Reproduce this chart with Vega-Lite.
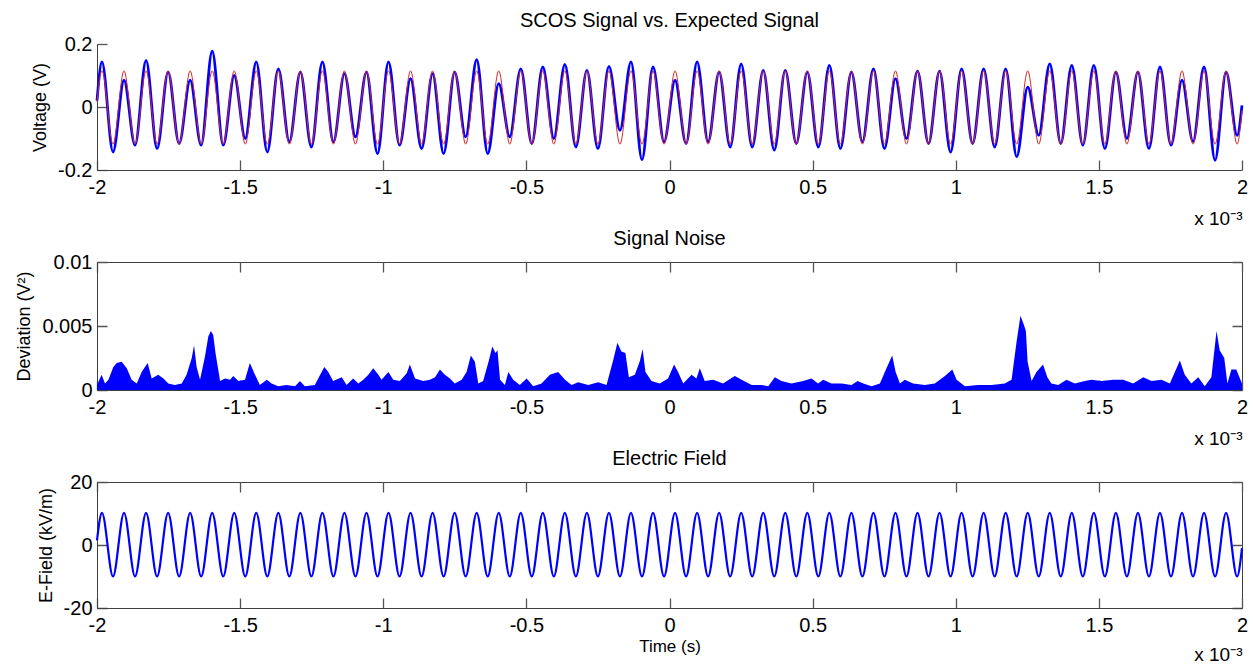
{
  "$schema": "https://vega.github.io/schema/vega-lite/v6.json",
  "background": "white",
  "padding": {"left": 15, "top": 11, "right": 4, "bottom": 2},
  "config": {
    "font": "Liberation Sans",
    "view": {"stroke": null},
    "axis": {"labelFont": "Liberation Sans", "labelFontSize": 20, "labelColor": "#000000", "titleFont": "Liberation Sans", "titleFontSize": 18, "titleFontWeight": "normal", "titleColor": "#000000", "domainColor": "#404040", "ticks": true, "tickSize": 0, "grid": true, "gridColor": "#555555", "gridOpacity": 1, "gridWidth": 1.3, "gridCap": "butt", "labelFlush": false, "labelOverlap": false, "labelBound": false},
    "axisBottom": {"labelPadding": 7},
    "axisLeft": {"labelPadding": 5, "titlePadding": 8},
    "title": {"font": "Liberation Sans", "fontSize": 20, "fontWeight": "normal", "color": "#000000", "offset": 3, "frame": "group", "anchor": "middle"}
  },
  "datasets": {
    "wave": [
      {"t": -2, "meas": 0.02, "expected": 0.017, "efield": 1.5},
      {"t": -1.9826, "meas": 0.143, "expected": 0.115, "efield": 10.2},
      {"t": -1.9441, "meas": -0.143, "expected": -0.118, "efield": -10},
      {"t": -1.9056, "meas": 0.085, "expected": 0.115, "efield": 10.2},
      {"t": -1.8671, "meas": -0.121, "expected": -0.118, "efield": -10},
      {"t": -1.8286, "meas": 0.148, "expected": 0.115, "efield": 10.2},
      {"t": -1.7901, "meas": -0.132, "expected": -0.118, "efield": -10},
      {"t": -1.7516, "meas": 0.111, "expected": 0.115, "efield": 10.2},
      {"t": -1.7131, "meas": -0.116, "expected": -0.118, "efield": -10},
      {"t": -1.6746, "meas": 0.085, "expected": 0.115, "efield": 10.2},
      {"t": -1.6361, "meas": -0.121, "expected": -0.118, "efield": -10},
      {"t": -1.5976, "meas": 0.177, "expected": 0.115, "efield": 10.2},
      {"t": -1.5591, "meas": -0.121, "expected": -0.118, "efield": -10},
      {"t": -1.5206, "meas": 0.1, "expected": 0.115, "efield": 10.2},
      {"t": -1.4821, "meas": -0.1, "expected": -0.118, "efield": -10},
      {"t": -1.4436, "meas": 0.143, "expected": 0.115, "efield": 10.2},
      {"t": -1.4051, "meas": -0.143, "expected": -0.118, "efield": -10},
      {"t": -1.3666, "meas": 0.121, "expected": 0.115, "efield": 10.2},
      {"t": -1.3281, "meas": -0.111, "expected": -0.118, "efield": -10},
      {"t": -1.2896, "meas": 0.111, "expected": 0.115, "efield": 10.2},
      {"t": -1.2511, "meas": -0.127, "expected": -0.118, "efield": -10},
      {"t": -1.2126, "meas": 0.143, "expected": 0.115, "efield": 10.2},
      {"t": -1.1741, "meas": -0.111, "expected": -0.118, "efield": -10},
      {"t": -1.1356, "meas": 0.106, "expected": 0.115, "efield": 10.2},
      {"t": -1.0971, "meas": -0.095, "expected": -0.118, "efield": -10},
      {"t": -1.0586, "meas": 0.111, "expected": 0.115, "efield": 10.2},
      {"t": -1.0201, "meas": -0.148, "expected": -0.118, "efield": -10},
      {"t": -0.9816, "meas": 0.143, "expected": 0.115, "efield": 10.2},
      {"t": -0.9431, "meas": -0.121, "expected": -0.118, "efield": -10},
      {"t": -0.9046, "meas": 0.09, "expected": 0.115, "efield": 10.2},
      {"t": -0.8661, "meas": -0.132, "expected": -0.118, "efield": -10},
      {"t": -0.8276, "meas": 0.106, "expected": 0.115, "efield": 10.2},
      {"t": -0.7891, "meas": -0.148, "expected": -0.118, "efield": -10},
      {"t": -0.7506, "meas": 0.111, "expected": 0.115, "efield": 10.2},
      {"t": -0.7121, "meas": -0.095, "expected": -0.118, "efield": -10},
      {"t": -0.6736, "meas": 0.15, "expected": 0.115, "efield": 10.2},
      {"t": -0.6351, "meas": -0.148, "expected": -0.118, "efield": -10},
      {"t": -0.5966, "meas": 0.074, "expected": 0.115, "efield": 10.2},
      {"t": -0.5581, "meas": -0.095, "expected": -0.118, "efield": -10},
      {"t": -0.5196, "meas": 0.121, "expected": 0.115, "efield": 10.2},
      {"t": -0.4811, "meas": -0.116, "expected": -0.118, "efield": -10},
      {"t": -0.4426, "meas": 0.127, "expected": 0.115, "efield": 10.2},
      {"t": -0.4041, "meas": -0.1, "expected": -0.118, "efield": -10},
      {"t": -0.3656, "meas": 0.135, "expected": 0.115, "efield": 10.2},
      {"t": -0.3271, "meas": -0.127, "expected": -0.118, "efield": -10},
      {"t": -0.2886, "meas": 0.116, "expected": 0.115, "efield": 10.2},
      {"t": -0.2501, "meas": -0.132, "expected": -0.118, "efield": -10},
      {"t": -0.2116, "meas": 0.129, "expected": 0.115, "efield": 10.2},
      {"t": -0.1731, "meas": -0.074, "expected": -0.118, "efield": -10},
      {"t": -0.1346, "meas": 0.143, "expected": 0.115, "efield": 10.2},
      {"t": -0.0961, "meas": -0.167, "expected": -0.118, "efield": -10},
      {"t": -0.0576, "meas": 0.127, "expected": 0.115, "efield": 10.2},
      {"t": -0.0191, "meas": -0.111, "expected": -0.118, "efield": -10},
      {"t": 0.0194, "meas": 0.085, "expected": 0.115, "efield": 10.2},
      {"t": 0.0579, "meas": -0.116, "expected": -0.118, "efield": -10},
      {"t": 0.0964, "meas": 0.143, "expected": 0.115, "efield": 10.2},
      {"t": 0.1349, "meas": -0.111, "expected": -0.118, "efield": -10},
      {"t": 0.1734, "meas": 0.111, "expected": 0.115, "efield": 10.2},
      {"t": 0.2119, "meas": -0.127, "expected": -0.118, "efield": -10},
      {"t": 0.2504, "meas": 0.137, "expected": 0.115, "efield": 10.2},
      {"t": 0.2889, "meas": -0.127, "expected": -0.118, "efield": -10},
      {"t": 0.3274, "meas": 0.116, "expected": 0.115, "efield": 10.2},
      {"t": 0.3659, "meas": -0.137, "expected": -0.118, "efield": -10},
      {"t": 0.4044, "meas": 0.116, "expected": 0.115, "efield": 10.2},
      {"t": 0.4429, "meas": -0.116, "expected": -0.118, "efield": -10},
      {"t": 0.4814, "meas": 0.111, "expected": 0.115, "efield": 10.2},
      {"t": 0.5199, "meas": -0.127, "expected": -0.118, "efield": -10},
      {"t": 0.5584, "meas": 0.132, "expected": 0.115, "efield": 10.2},
      {"t": 0.5969, "meas": -0.132, "expected": -0.118, "efield": -10},
      {"t": 0.6354, "meas": 0.111, "expected": 0.115, "efield": 10.2},
      {"t": 0.6739, "meas": -0.111, "expected": -0.118, "efield": -10},
      {"t": 0.7124, "meas": 0.121, "expected": 0.115, "efield": 10.2},
      {"t": 0.7509, "meas": -0.132, "expected": -0.118, "efield": -10},
      {"t": 0.7894, "meas": 0.09, "expected": 0.115, "efield": 10.2},
      {"t": 0.8279, "meas": -0.1, "expected": -0.118, "efield": -10},
      {"t": 0.8664, "meas": 0.114, "expected": 0.115, "efield": 10.2},
      {"t": 0.9049, "meas": -0.116, "expected": -0.118, "efield": -10},
      {"t": 0.9434, "meas": 0.114, "expected": 0.115, "efield": 10.2},
      {"t": 0.9819, "meas": -0.143, "expected": -0.118, "efield": -10},
      {"t": 1.0204, "meas": 0.121, "expected": 0.115, "efield": 10.2},
      {"t": 1.0589, "meas": -0.116, "expected": -0.118, "efield": -10},
      {"t": 1.0974, "meas": 0.121, "expected": 0.115, "efield": 10.2},
      {"t": 1.1359, "meas": -0.127, "expected": -0.118, "efield": -10},
      {"t": 1.1744, "meas": 0.121, "expected": 0.115, "efield": 10.2},
      {"t": 1.2129, "meas": -0.158, "expected": -0.118, "efield": -10},
      {"t": 1.2514, "meas": 0.063, "expected": 0.115, "efield": 10.2},
      {"t": 1.2899, "meas": -0.09, "expected": -0.118, "efield": -10},
      {"t": 1.3284, "meas": 0.137, "expected": 0.115, "efield": 10.2},
      {"t": 1.3669, "meas": -0.116, "expected": -0.118, "efield": -10},
      {"t": 1.4054, "meas": 0.132, "expected": 0.115, "efield": 10.2},
      {"t": 1.4439, "meas": -0.121, "expected": -0.118, "efield": -10},
      {"t": 1.4824, "meas": 0.132, "expected": 0.115, "efield": 10.2},
      {"t": 1.5209, "meas": -0.132, "expected": -0.118, "efield": -10},
      {"t": 1.5594, "meas": 0.111, "expected": 0.115, "efield": 10.2},
      {"t": 1.5979, "meas": -0.1, "expected": -0.118, "efield": -10},
      {"t": 1.6364, "meas": 0.111, "expected": 0.115, "efield": 10.2},
      {"t": 1.6749, "meas": -0.132, "expected": -0.118, "efield": -10},
      {"t": 1.7134, "meas": 0.127, "expected": 0.115, "efield": 10.2},
      {"t": 1.7519, "meas": -0.121, "expected": -0.118, "efield": -10},
      {"t": 1.7904, "meas": 0.085, "expected": 0.115, "efield": 10.2},
      {"t": 1.8289, "meas": -0.11, "expected": -0.118, "efield": -10},
      {"t": 1.8674, "meas": 0.127, "expected": 0.115, "efield": 10.2},
      {"t": 1.9059, "meas": -0.169, "expected": -0.118, "efield": -10},
      {"t": 1.9444, "meas": 0.111, "expected": 0.115, "efield": 10.2},
      {"t": 1.9829, "meas": -0.09, "expected": -0.118, "efield": -10},
      {"t": 2, "meas": 0.005, "expected": -0.01, "efield": -1}
    ],
    "noise": [
      {"t": -2, "dev": 0.0004}, {"t": -1.984, "dev": 0.0012}, {"t": -1.972, "dev": 0.0005}, {"t": -1.96, "dev": 0.0008},
      {"t": -1.943, "dev": 0.0018}, {"t": -1.931, "dev": 0.0021}, {"t": -1.914, "dev": 0.0022}, {"t": -1.896, "dev": 0.0017},
      {"t": -1.879, "dev": 0.0008}, {"t": -1.861, "dev": 0.0005}, {"t": -1.844, "dev": 0.0014}, {"t": -1.823, "dev": 0.0021},
      {"t": -1.809, "dev": 0.0009}, {"t": -1.786, "dev": 0.0012}, {"t": -1.768, "dev": 0.0009}, {"t": -1.751, "dev": 0.0005},
      {"t": -1.728, "dev": 0.0004}, {"t": -1.704, "dev": 0.0005}, {"t": -1.687, "dev": 0.0012}, {"t": -1.669, "dev": 0.0025},
      {"t": -1.661, "dev": 0.0035}, {"t": -1.652, "dev": 0.0018}, {"t": -1.64, "dev": 0.0008}, {"t": -1.623, "dev": 0.0026},
      {"t": -1.611, "dev": 0.0042}, {"t": -1.602, "dev": 0.0046}, {"t": -1.594, "dev": 0.0043}, {"t": -1.586, "dev": 0.0029},
      {"t": -1.57, "dev": 0.0007}, {"t": -1.553, "dev": 0.0009}, {"t": -1.535, "dev": 0.0008}, {"t": -1.524, "dev": 0.0011},
      {"t": -1.506, "dev": 0.0007}, {"t": -1.483, "dev": 0.0008}, {"t": -1.466, "dev": 0.0021}, {"t": -1.448, "dev": 0.0012},
      {"t": -1.431, "dev": 0.0004}, {"t": -1.407, "dev": 0.0008}, {"t": -1.39, "dev": 0.0005}, {"t": -1.367, "dev": 0.0003},
      {"t": -1.338, "dev": 0.0004}, {"t": -1.308, "dev": 0.0003}, {"t": -1.291, "dev": 0.0007}, {"t": -1.274, "dev": 0.0003},
      {"t": -1.239, "dev": 0.0004}, {"t": -1.206, "dev": 0.0018}, {"t": -1.192, "dev": 0.0014}, {"t": -1.175, "dev": 0.0007},
      {"t": -1.145, "dev": 0.001}, {"t": -1.128, "dev": 0.0004}, {"t": -1.105, "dev": 0.0009}, {"t": -1.087, "dev": 0.0005},
      {"t": -1.07, "dev": 0.0008}, {"t": -1.052, "dev": 0.0012}, {"t": -1.035, "dev": 0.0017}, {"t": -1.017, "dev": 0.0012},
      {"t": -1.006, "dev": 0.0008}, {"t": -0.982, "dev": 0.0014}, {"t": -0.965, "dev": 0.0008}, {"t": -0.942, "dev": 0.0007},
      {"t": -0.918, "dev": 0.0013}, {"t": -0.907, "dev": 0.002}, {"t": -0.889, "dev": 0.0009}, {"t": -0.86, "dev": 0.0007},
      {"t": -0.837, "dev": 0.0008}, {"t": -0.819, "dev": 0.001}, {"t": -0.802, "dev": 0.0016}, {"t": -0.785, "dev": 0.0012},
      {"t": -0.767, "dev": 0.0009}, {"t": -0.75, "dev": 0.0005}, {"t": -0.726, "dev": 0.0008}, {"t": -0.709, "dev": 0.0014},
      {"t": -0.694, "dev": 0.0027}, {"t": -0.68, "dev": 0.0022}, {"t": -0.668, "dev": 0.0005}, {"t": -0.651, "dev": 0.0007},
      {"t": -0.631, "dev": 0.0023}, {"t": -0.619, "dev": 0.0034}, {"t": -0.608, "dev": 0.0029}, {"t": -0.601, "dev": 0.0031},
      {"t": -0.592, "dev": 0.0008}, {"t": -0.575, "dev": 0.0004}, {"t": -0.563, "dev": 0.0014}, {"t": -0.546, "dev": 0.0008},
      {"t": -0.523, "dev": 0.0004}, {"t": -0.499, "dev": 0.0009}, {"t": -0.476, "dev": 0.0003}, {"t": -0.447, "dev": 0.0005},
      {"t": -0.418, "dev": 0.0012}, {"t": -0.389, "dev": 0.0014}, {"t": -0.365, "dev": 0.0008}, {"t": -0.342, "dev": 0.0004},
      {"t": -0.319, "dev": 0.0006}, {"t": -0.284, "dev": 0.0004}, {"t": -0.249, "dev": 0.0006}, {"t": -0.22, "dev": 0.0004},
      {"t": -0.197, "dev": 0.0023}, {"t": -0.182, "dev": 0.0037}, {"t": -0.168, "dev": 0.003}, {"t": -0.154, "dev": 0.0029},
      {"t": -0.142, "dev": 0.001}, {"t": -0.121, "dev": 0.0012}, {"t": -0.103, "dev": 0.0023}, {"t": -0.094, "dev": 0.0032},
      {"t": -0.084, "dev": 0.0014}, {"t": -0.063, "dev": 0.0007}, {"t": -0.034, "dev": 0.0005}, {"t": -0.005, "dev": 0.0009},
      {"t": 0.016, "dev": 0.002}, {"t": 0.03, "dev": 0.0014}, {"t": 0.048, "dev": 0.0005}, {"t": 0.077, "dev": 0.0012},
      {"t": 0.094, "dev": 0.0009}, {"t": 0.106, "dev": 0.0017}, {"t": 0.123, "dev": 0.0007}, {"t": 0.153, "dev": 0.0008},
      {"t": 0.187, "dev": 0.0005}, {"t": 0.228, "dev": 0.0011}, {"t": 0.252, "dev": 0.0008}, {"t": 0.287, "dev": 0.0004},
      {"t": 0.321, "dev": 0.0004}, {"t": 0.345, "dev": 0.0003}, {"t": 0.368, "dev": 0.001}, {"t": 0.391, "dev": 0.0007},
      {"t": 0.426, "dev": 0.0005}, {"t": 0.467, "dev": 0.0007}, {"t": 0.496, "dev": 0.0009}, {"t": 0.519, "dev": 0.0005},
      {"t": 0.537, "dev": 0.0008}, {"t": 0.566, "dev": 0.0005}, {"t": 0.601, "dev": 0.0005}, {"t": 0.636, "dev": 0.0004},
      {"t": 0.657, "dev": 0.0007}, {"t": 0.677, "dev": 0.0005}, {"t": 0.706, "dev": 0.0003}, {"t": 0.735, "dev": 0.0005},
      {"t": 0.758, "dev": 0.0017}, {"t": 0.778, "dev": 0.0027}, {"t": 0.79, "dev": 0.0014}, {"t": 0.805, "dev": 0.0005},
      {"t": 0.822, "dev": 0.0008}, {"t": 0.851, "dev": 0.0005}, {"t": 0.892, "dev": 0.0004}, {"t": 0.927, "dev": 0.0005},
      {"t": 0.962, "dev": 0.0011}, {"t": 0.988, "dev": 0.0016}, {"t": 1.003, "dev": 0.0008}, {"t": 1.032, "dev": 0.0003},
      {"t": 1.078, "dev": 0.0004}, {"t": 1.125, "dev": 0.0004}, {"t": 1.171, "dev": 0.0005}, {"t": 1.195, "dev": 0.0008},
      {"t": 1.212, "dev": 0.0037}, {"t": 1.226, "dev": 0.0058}, {"t": 1.238, "dev": 0.0051}, {"t": 1.245, "dev": 0.0046},
      {"t": 1.251, "dev": 0.0022}, {"t": 1.265, "dev": 0.0007}, {"t": 1.282, "dev": 0.0014}, {"t": 1.305, "dev": 0.002},
      {"t": 1.32, "dev": 0.001}, {"t": 1.334, "dev": 0.0005}, {"t": 1.358, "dev": 0.0004}, {"t": 1.387, "dev": 0.0008},
      {"t": 1.416, "dev": 0.0005}, {"t": 1.451, "dev": 0.0007}, {"t": 1.474, "dev": 0.0008}, {"t": 1.509, "dev": 0.0007},
      {"t": 1.55, "dev": 0.0008}, {"t": 1.585, "dev": 0.0008}, {"t": 1.62, "dev": 0.0005}, {"t": 1.655, "dev": 0.001},
      {"t": 1.684, "dev": 0.0007}, {"t": 1.719, "dev": 0.0008}, {"t": 1.748, "dev": 0.0005}, {"t": 1.783, "dev": 0.0023},
      {"t": 1.8, "dev": 0.0012}, {"t": 1.823, "dev": 0.0005}, {"t": 1.847, "dev": 0.001}, {"t": 1.87, "dev": 0.0003},
      {"t": 1.893, "dev": 0.001}, {"t": 1.911, "dev": 0.0046}, {"t": 1.922, "dev": 0.0031}, {"t": 1.938, "dev": 0.0025},
      {"t": 1.949, "dev": 0.0005}, {"t": 1.963, "dev": 0.0016}, {"t": 1.98, "dev": 0.0016}, {"t": 2, "dev": 0.0005}
    ]
  },
  "spacing": 92,
  "bounds": "flush",
  "vconcat": [
    {
      "width": 1145,
      "height": 126,
      "title": {"text": "SCOS Signal vs. Expected Signal"},
      "data": {"name": "wave"},
      "layer": [
        {
          "mark": {"type": "line", "color": "#0000ff", "strokeWidth": 2.8, "interpolate": "monotone"},
          "encoding": {
            "x": {"field": "t", "type": "quantitative", "scale": {"domain": [-2, 2], "nice": false, "zero": false},
                  "axis": {"values": [-2, -1.5, -1, -0.5, 0, 0.5, 1, 1.5, 2], "labelExpr": "'' + datum.value", "gridDash": [0, 116, 10, 1000], "title": "x 10⁻³", "titleFontSize": 19, "titleAlign": "right", "titleX": 1145, "titleY": 54, "titleBaseline": "alphabetic"}},
            "y": {"field": "meas", "type": "quantitative", "title": "Voltage (V)", "scale": {"domain": [-0.2, 0.2], "nice": false, "zero": false},
                  "axis": {"values": [-0.2, 0, 0.2], "labelExpr": "'' + datum.value", "gridDash": [10, 2000]}}
          }
        },
        {
          "mark": {"type": "line", "color": "#d42a2a", "strokeWidth": 1, "interpolate": "monotone"},
          "encoding": {
            "x": {"field": "t", "type": "quantitative", "axis": null},
            "y": {"field": "expected", "type": "quantitative", "axis": null}
          }
        }
      ],
      "resolve": {"axis": {"x": "independent", "y": "independent"}}
    },
    {
      "width": 1145,
      "height": 128,
      "view": {"stroke": "#404040"},
      "title": {"text": "Signal Noise"},
      "data": {"name": "noise"},
      "mark": {"type": "area", "color": "#0000ff", "opacity": 1, "interpolate": "linear"},
      "encoding": {
        "x": {"field": "t", "type": "quantitative", "scale": {"domain": [-2, 2], "nice": false, "zero": false},
              "axis": {"values": [-2, -1.5, -1, -0.5, 0, 0.5, 1, 1.5, 2], "labelExpr": "'' + datum.value", "gridDash": [10, 108, 10, 1000], "title": "x 10⁻³", "titleFontSize": 19, "titleAlign": "right", "titleX": 1145, "titleY": 54, "titleBaseline": "alphabetic"}},
        "y": {"field": "dev", "type": "quantitative", "title": "Deviation (V²)", "scale": {"domain": [0, 0.01], "nice": false},
              "axis": {"values": [0, 0.005, 0.01], "labelExpr": "'' + datum.value", "gridDash": [10, 1125, 10, 2000]}}
      }
    },
    {
      "width": 1145,
      "height": 126,
      "view": {"stroke": "#404040"},
      "title": {"text": "Electric Field"},
      "data": {"name": "wave"},
      "layer": [
        {
          "mark": {"type": "line", "color": "#0000ff", "strokeWidth": 2.2, "interpolate": "monotone"},
          "encoding": {
            "x": {"field": "t", "type": "quantitative", "scale": {"domain": [-2, 2], "nice": false, "zero": false},
                  "axis": {"values": [-2, -1.5, -1, -0.5, 0, 0.5, 1, 1.5, 2], "labelExpr": "'' + datum.value", "gridDash": [10, 106, 10, 1000], "title": "Time (s)", "titleFontSize": 17, "titleAlign": "center", "titleX": 572.5, "titleY": 43, "titleBaseline": "alphabetic"}},
            "y": {"field": "efield", "type": "quantitative", "title": "E-Field (kV/m)", "scale": {"domain": [-20, 20], "nice": false, "zero": false},
                  "axis": {"values": [-20, 0, 20], "labelExpr": "'' + datum.value", "gridDash": [10, 1125, 10, 2000]}}
          }
        },
        {
          "mark": {"type": "point", "opacity": 0},
          "encoding": {
            "x": {"field": "t", "type": "quantitative", "axis": {"orient": "bottom", "labels": false, "ticks": false, "domain": false, "grid": false, "title": "x 10⁻³", "titleFontSize": 19, "titleAlign": "right", "titleX": 1145, "titleY": 52, "titleBaseline": "alphabetic"}}
          }
        }
      ],
      "resolve": {"axis": {"x": "independent", "y": "independent"}}
    }
  ]
}
